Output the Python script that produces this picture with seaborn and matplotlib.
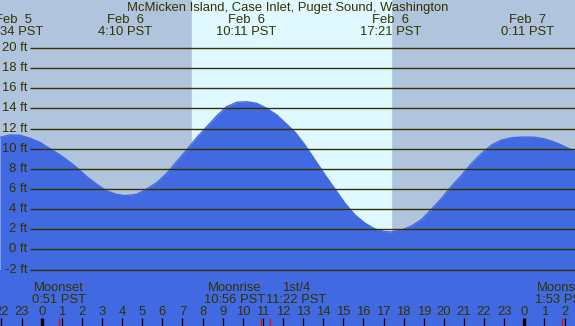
import matplotlib
matplotlib.use("Agg")
import matplotlib.pyplot as plt
import seaborn as sns
import pandas as pd

# tide height, hours from Feb 6 00:00 PST
tide_hours = [-2.07, -1.58, -1.08, -0.58, -0.09, 0.41, 0.91, 1.41, 1.82, 2.24, 2.74,
              3.23, 3.73, 4.14, 4.72, 5.22, 5.72, 6.22, 6.71, 7.21, 7.71, 8.21, 8.70,
              9.20, 9.70, 10.19, 10.69, 11.19, 11.69, 12.60, 13.09, 13.59, 14.09,
              14.59, 15.08, 15.58, 16.08, 16.57, 17.07, 17.40, 17.90, 18.40, 18.90,
              19.39, 19.89, 20.39, 20.89, 21.38, 21.88, 22.38, 22.87, 23.37, 24.03,
              24.53, 25.03, 25.53, 26.02, 26.52]
tide_ft = [11.13, 11.36, 11.33, 11.03, 10.63, 10.0, 9.38, 8.65, 8.0, 7.22, 6.47,
           5.8, 5.47, 5.34, 5.47, 6.0, 6.63, 7.56, 8.71, 9.87, 11.1, 12.18, 13.24,
           14.17, 14.6, 14.66, 14.5, 14.0, 13.34, 11.63, 10.37, 8.88, 7.39,
           5.97, 4.58, 3.42, 2.6, 2.03, 1.77, 1.74, 1.93, 2.33, 3.0,
           4.0, 5.08, 6.3, 7.39, 8.55, 9.54, 10.37, 10.86, 11.09, 11.16,
           11.13, 10.96, 10.63, 10.2, 9.7]

# high / low tide labels
extreme_hours = [-1.43, 4.17, 10.18, 17.35, 24.18]
extreme_dates = ["Feb  5", "Feb  6", "Feb  6", "Feb  6", "Feb  7"]
extreme_times = ["22:34 PST", "4:10 PST", "10:11 PST", "17:21 PST", "0:11 PST"]

sunrise = 7.46
sunset = 17.35

# moon events
moon_hours = [0.85, 10.93, 11.37, 25.88]
moon_names = ["Moonset", "Moonrise", "1st/4", "Moonset"]
moon_times = ["0:51 PST", "10:56 PST", "11:22 PST", "1:53 PST"]
moon_shift = [0, -1.35, 1.3, 0]  # label nudges so they don't overlap

levels = list(range(-2, 21, 2))
hours = list(range(-2, 27))

night = "#b0c4de"
day = "#e0f8ff"
water = "#4169e1"
ink = "#333300"

x0, x1 = -2.074, 26.52
y0, y1 = -7.59, 24.75
px_x = (x1 - x0) / 575   # hours per pixel
px_y = (y1 - y0) / 326   # feet per pixel

plt.rcParams["font.family"] = ["Liberation Sans", "DejaVu Sans"]

fig = plt.figure(figsize=(5.75, 3.26), dpi=100)
ax = fig.add_axes([0, 0, 1, 1])
ax.set_xlim(x0, x1)
ax.set_ylim(y0, y1)
ax.axis("off")
fig.patch.set_facecolor(night)

ax.axvspan(x0, x1, color=night, zorder=0)
ax.axvspan(sunrise, sunset, color=day, zorder=0)

df = pd.DataFrame({"hour": tide_hours, "ft": tide_ft})
ax.fill_between(df["hour"], df["ft"], y0, color=water, lw=0, zorder=1)
sns.lineplot(data=df, x="hour", y="ft", color=water, lw=1, ax=ax, zorder=2)
ax.axhspan(y0, -2.0, color=water, lw=0, zorder=1)

fs = 9.4

# level lines
for lv in levels:
    ax.hlines(lv, x0 + 30 * px_x, x1, color=ink, lw=1.0, zorder=3)
    ax.text(x0 + 27.5 * px_x, lv, f"{lv} ft", ha="right", va="center",
            fontsize=fs, color=ink, zorder=4)

ax.set_xlim(x0, x1)
ax.set_ylim(y0, y1)

ax.text(0.5, 1 - 7.5 / 326, "McMicken Island, Case Inlet, Puget Sound, Washington",
        transform=ax.transAxes, ha="center", va="center", fontsize=fs, color=ink)

top_date = y1 - 19.5 * px_y
top_time = y1 - 31.5 * px_y
for h, d, t in zip(extreme_hours, extreme_dates, extreme_times):
    ax.text(h, top_date, d, ha="center", va="center", fontsize=fs, color=ink)
    ax.text(h, top_time, t, ha="center", va="center", fontsize=fs, color=ink)

name_y = y1 - 287.5 * px_y
time_y = y1 - 299.5 * px_y
for h, n, t, s in zip(moon_hours, moon_names, moon_times, moon_shift):
    ax.text(h + s, name_y, n, ha="center", va="center", fontsize=fs, color=ink)
    ax.text(h + s, time_y, t, ha="center", va="center", fontsize=fs, color=ink)

# hour ticks along the bottom
tick_top = y1 - 318 * px_y
lab_y = y1 - 311.5 * px_y
for h in hours:
    ax.text(h, lab_y, str(h % 24), ha="center", va="center", fontsize=fs, color=ink)
    ax.vlines(h, y0, tick_top, color="black", lw=2.4 if h % 24 == 0 else 0.9, zorder=5)
for h in moon_hours:
    ax.vlines(h, y0, tick_top, color="red", lw=0.9, zorder=5)

fig.savefig("out.png", dpi=100, facecolor=night)
